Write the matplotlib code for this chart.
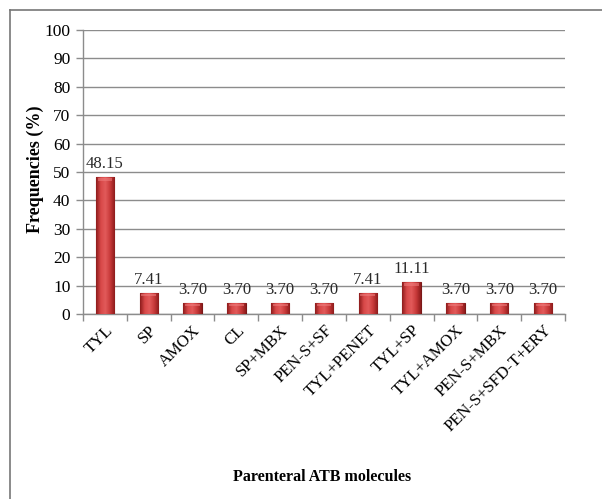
import matplotlib
matplotlib.use("Agg")
import matplotlib.pyplot as plt
import numpy as np
from matplotlib.lines import Line2D

categories = ["TYL", "SP", "AMOX", "CL", "SP+MBX", "PEN-S+SF", "TYL+PENET",
              "TYL+SP", "TYL+AMOX", "PEN-S+MBX", "PEN-S+SFD-T+ERY"]
frequencies = [48.15, 7.41, 3.70, 3.70, 3.70, 3.70, 7.41, 11.11, 3.70, 3.70, 3.70]
y_ticks = list(range(0, 101, 10))

plt.rcParams["font.family"] = ["Liberation Serif", "DejaVu Serif"]

W, H = 602, 499
fig = plt.figure(figsize=(W / 100, H / 100), dpi=100)
fig.patch.set_facecolor("white")

# axes placement in pixels
x0, x1 = 83, 565
y_top, y_bot = 30, 314
ax = fig.add_axes([x0 / W, 1 - y_bot / H, (x1 - x0) / W, (y_bot - y_top) / H])

x = np.arange(len(categories))
bars = ax.bar(x, frequencies, width=0.42, color="#c83a3a",
              edgecolor="#7a1818", linewidth=0.8, zorder=3)

# horizontal shading across each bar
cmap = matplotlib.colors.LinearSegmentedColormap.from_list(
    "barshade", ["#8e1c1c", "#d84848", "#e25a5a", "#c83a3a", "#8e1c1c"])
grad = np.linspace(0, 1, 64).reshape(1, -1)
for b in bars:
    bx, by = b.get_x(), b.get_y()
    bw, bh = b.get_width(), b.get_height()
    im = ax.imshow(grad, extent=[bx, bx + bw, by, by + bh], cmap=cmap,
                   aspect="auto", zorder=3.5)
    im.set_clip_path(b)
    # lighter cap on top
    cap_h = min(bh * 0.25, 1.2)
    ax.fill_between([bx + bw * 0.1, bx + bw * 0.9], by + bh - cap_h, by + bh - 0.2,
                    color="#f08080", alpha=0.55, lw=0, zorder=3.6)

for xi, v in zip(x, frequencies):
    ax.text(xi, v + 1.8, f"{v:.2f}", ha="center", va="bottom",
            fontsize=12, color="#2a2a2a", zorder=5)

ax.set_xlim(-0.5, len(categories) - 0.5)
ax.set_ylim(0, 100)
ax.set_yticks(y_ticks)
ax.set_yticklabels([str(t) for t in y_ticks], fontsize=12.5)
ax.yaxis.grid(True, color="#8c8c8c", linewidth=1.0, zorder=0)
ax.set_axisbelow(True)

ax.set_xticks(x)
ax.set_xticklabels(categories, rotation=45, ha="right", rotation_mode="anchor",
                   fontsize=12)
ax.tick_params(axis="x", length=0, pad=6)
ax.set_xticks(np.arange(len(categories) + 1) - 0.5, minor=True)
ax.tick_params(axis="x", which="minor", length=5, color="#8c8c8c", width=1)
ax.tick_params(axis="y", length=5, color="#8c8c8c", width=1, pad=4)

for s in ["top", "right"]:
    ax.spines[s].set_visible(False)
for s in ["left", "bottom"]:
    ax.spines[s].set_color("#8c8c8c")
    ax.spines[s].set_linewidth(1.0)

fig.text(35 / W, 1 - 169 / H, "Frequencies (%)", rotation=90, ha="center",
         va="center", fontsize=13, fontweight="bold")
fig.text(322 / W, 1 - 477 / H, "Parenteral ATB molecules", ha="center",
         va="center", fontsize=11.5, fontweight="bold")

# outer frame
fig.add_artist(Line2D([10 / W, 10 / W], [0, 1 - 10 / H], color="#777777",
                      lw=1.2, transform=fig.transFigure))
fig.add_artist(Line2D([10 / W, 1], [1 - 10 / H, 1 - 10 / H], color="#777777",
                      lw=1.2, transform=fig.transFigure))

fig.savefig("out.png", dpi=100)
